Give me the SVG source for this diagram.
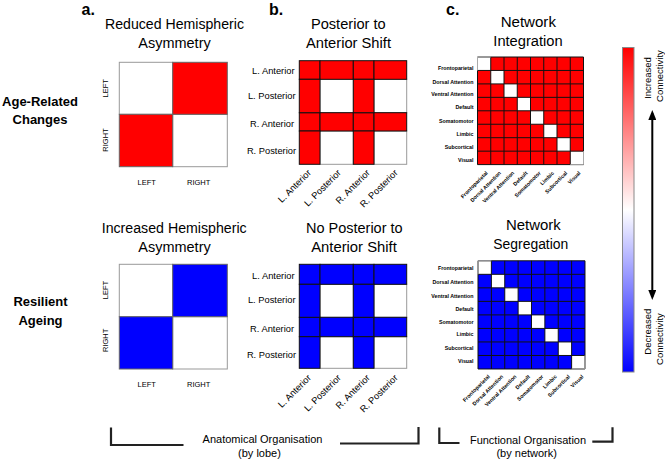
<svg xmlns="http://www.w3.org/2000/svg" xmlns:xlink="http://www.w3.org/1999/xlink" width="665" height="462" viewBox="0 0 665 462">
<defs>
<style>
text{font-family:"Liberation Sans",Arial,sans-serif;fill:#000}
.t{font-size:14px;text-anchor:middle}
.h{font-size:13px;font-weight:bold;text-anchor:middle}
.p{font-size:16px;font-weight:bold}
.ax{font-size:7.5px;text-anchor:middle}
.rl{font-size:9.3px;text-anchor:end}
.nl{font-size:5.3px;font-weight:bold;text-anchor:end}
.ft{font-size:11px;text-anchor:middle}
.cb{font-size:9.5px;text-anchor:middle}
.w{fill:#fff;stroke:#999;stroke-width:1}
.r{fill:#ff0000;stroke:#111;stroke-width:1}
.b{fill:#0000ff;stroke:#111;stroke-width:1}
.ar{fill:#ff0000;stroke:#666;stroke-width:1}
.ab{fill:#0000ff;stroke:#666;stroke-width:1}
.br{fill:none;stroke:#222;stroke-width:2.2}
</style>
<linearGradient id="cg" x1="0" y1="0" x2="0" y2="1">
<stop offset="0" stop-color="#ff0000"/><stop offset="0.5" stop-color="#ffffff"/><stop offset="1" stop-color="#0000ff"/>
</linearGradient>
<marker id="ah" markerWidth="5" markerHeight="4" refX="3.5" refY="2" orient="auto-start-reverse"><path d="M0 0L5 2L0 4z" fill="#000"/></marker>
<g id="netgrid">
<rect width="8" height="8" fill="currentColor"/>
<path d="M0 0h1v1h-1zM1 1h1v1h-1zM2 2h1v1h-1zM3 3h1v1h-1zM4 4h1v1h-1zM5 5h1v1h-1zM6 6h1v1h-1zM7 7h1v1h-1z" fill="#fff"/>
<path d="M0 0H8V8H0zM1 0V8M2 0V8M3 0V8M4 0V8M5 0V8M6 0V8M7 0V8M0 1H8M0 2H8M0 3H8M0 4H8M0 5H8M0 6H8M0 7H8" fill="none" stroke="#111" stroke-width="1" vector-effect="non-scaling-stroke"/>
<path d="M0 1V0H1M7 8H8V7" fill="none" stroke="#aaa" stroke-width="1" vector-effect="non-scaling-stroke"/>
</g>
</defs>
<rect width="665" height="462" fill="#fff"/>

<g id="row-labels">
<text class="h" x="40" y="106">Age-Related</text>
<text class="h" x="40" y="124">Changes</text>
<text class="h" x="40.5" y="306">Resilient</text>
<text class="h" x="40.5" y="325">Ageing</text>
</g>

<g id="panel-a">
<text class="p" x="81.5" y="15">a.</text>
<text class="t" x="174.5" y="29.3" textLength="139" lengthAdjust="spacingAndGlyphs">Reduced Hemispheric</text>
<text class="t" x="174.5" y="48.3" textLength="72.4" lengthAdjust="spacingAndGlyphs">Asymmetry</text>
<rect class="w" x="119.3" y="62.3" width="53.4" height="52"/>
<rect class="w" x="172.7" y="114.3" width="54.6" height="52.4"/>
<rect class="ar" x="172.7" y="62.3" width="54.6" height="52"/>
<rect class="ar" x="119.3" y="114.3" width="53.4" height="52.4"/>
<text class="ax" transform="translate(107.7 88.3) rotate(-90)">LEFT</text>
<text class="ax" transform="translate(107.7 140) rotate(-90)">RIGHT</text>
<text class="ax" x="146.7" y="185">LEFT</text>
<text class="ax" x="198.7" y="185">RIGHT</text>

<text class="t" x="174.2" y="233.3" textLength="145" lengthAdjust="spacingAndGlyphs">Increased Hemispheric</text>
<text class="t" x="174.5" y="251.7" textLength="72.4" lengthAdjust="spacingAndGlyphs">Asymmetry</text>
<rect class="w" x="119.3" y="264.3" width="53.4" height="52.4"/>
<rect class="w" x="172.7" y="316.7" width="54.6" height="52.3"/>
<rect class="ab" x="172.7" y="264.3" width="54.6" height="52.4"/>
<rect class="ab" x="119.3" y="316.7" width="53.4" height="52.3"/>
<text class="ax" transform="translate(107.7 290) rotate(-90)">LEFT</text>
<text class="ax" transform="translate(107.7 340.3) rotate(-90)">RIGHT</text>
<text class="ax" x="146.7" y="386.7">LEFT</text>
<text class="ax" x="198.7" y="386.7">RIGHT</text>
</g>

<g id="panel-b">
<text class="p" x="269" y="15">b.</text>
<text class="t" x="348.3" y="29.3" textLength="74.7" lengthAdjust="spacingAndGlyphs">Posterior to</text>
<text class="t" x="348.5" y="48.3" textLength="85" lengthAdjust="spacingAndGlyphs">Anterior Shift</text>
<rect class="w" x="320" y="79.3" width="33.3" height="33.4"/>
<rect class="w" x="374" y="79.3" width="32.7" height="33.4"/>
<rect class="w" x="320" y="131" width="33.3" height="33.3"/>
<rect class="w" x="374" y="131" width="32.7" height="33.3"/>
<rect class="r" x="299.3" y="60.7" width="20.7" height="18.6"/>
<rect class="r" x="320" y="60.7" width="33.3" height="18.6"/>
<rect class="r" x="353.3" y="60.7" width="20.7" height="18.6"/>
<rect class="r" x="374" y="60.7" width="32.7" height="18.6"/>
<rect class="r" x="299.3" y="112.7" width="20.7" height="18.3"/>
<rect class="r" x="320" y="112.7" width="33.3" height="18.3"/>
<rect class="r" x="353.3" y="112.7" width="20.7" height="18.3"/>
<rect class="r" x="374" y="112.7" width="32.7" height="18.3"/>
<rect class="r" x="299.3" y="79.3" width="20.7" height="33.4"/>
<rect class="r" x="353.3" y="79.3" width="20.7" height="33.4"/>
<rect class="r" x="299.3" y="131" width="20.7" height="33.3"/>
<rect class="r" x="353.3" y="131" width="20.7" height="33.3"/>
<text class="rl" x="294.5" y="74.3">L. Anterior</text>
<text class="rl" x="295.5" y="98.7">L. Posterior</text>
<text class="rl" x="294" y="127.3">R. Anterior</text>
<text class="rl" x="296" y="154">R. Posterior</text>
<text class="rl" transform="translate(311.7 173.4) rotate(-45)">L. Anterior</text>
<text class="rl" transform="translate(341.5 173.4) rotate(-45)">L. Posterior</text>
<text class="rl" transform="translate(370.5 173.4) rotate(-45)">R. Anterior</text>
<text class="rl" transform="translate(398.4 173.4) rotate(-45)">R. Posterior</text>

<text class="t" x="354.3" y="232.7" textLength="96.7" lengthAdjust="spacingAndGlyphs">No Posterior to</text>
<text class="t" x="354" y="251.7" textLength="85.7" lengthAdjust="spacingAndGlyphs">Anterior Shift</text>
<rect class="w" x="320" y="284.3" width="33.3" height="33"/>
<rect class="w" x="374" y="284.3" width="32.7" height="33"/>
<rect class="w" x="320" y="336.7" width="33.3" height="31.6"/>
<rect class="w" x="374" y="336.7" width="32.7" height="31.6"/>
<rect class="b" x="299.3" y="264.3" width="20.7" height="20"/>
<rect class="b" x="320" y="264.3" width="33.3" height="20"/>
<rect class="b" x="353.3" y="264.3" width="20.7" height="20"/>
<rect class="b" x="374" y="264.3" width="32.7" height="20"/>
<rect class="b" x="299.3" y="317.3" width="20.7" height="19.4"/>
<rect class="b" x="320" y="317.3" width="33.3" height="19.4"/>
<rect class="b" x="353.3" y="317.3" width="20.7" height="19.4"/>
<rect class="b" x="374" y="317.3" width="32.7" height="19.4"/>
<rect class="b" x="299.3" y="284.3" width="20.7" height="33"/>
<rect class="b" x="353.3" y="284.3" width="20.7" height="33"/>
<rect class="b" x="299.3" y="336.7" width="20.7" height="31.6"/>
<rect class="b" x="353.3" y="336.7" width="20.7" height="31.6"/>
<text class="rl" x="294.5" y="278.7">L. Anterior</text>
<text class="rl" x="295.5" y="303.3">L. Posterior</text>
<text class="rl" x="294" y="331.7">R. Anterior</text>
<text class="rl" x="296" y="358.3">R. Posterior</text>
<text class="rl" transform="translate(311.7 378.4) rotate(-45)">L. Anterior</text>
<text class="rl" transform="translate(341.5 378.4) rotate(-45)">L. Posterior</text>
<text class="rl" transform="translate(370.5 378.4) rotate(-45)">R. Anterior</text>
<text class="rl" transform="translate(398.4 378.4) rotate(-45)">R. Posterior</text>
</g>

<g id="panel-c">
<text class="p" x="446" y="15">c.</text>
<text class="t" x="528.3" y="26.7" textLength="55.3" lengthAdjust="spacingAndGlyphs">Network</text>
<text class="t" x="528" y="45.7" textLength="69.4" lengthAdjust="spacingAndGlyphs">Integration</text>
<use xlink:href="#netgrid" href="#netgrid" transform="translate(477.5 57) scale(13.25 13.45)" style="color:#ff0000"/>
<text class="nl" x="473.5" y="70.4">Frontoparietal</text>
<text class="nl" x="473.5" y="83.6">Dorsal Attention</text>
<text class="nl" x="473.5" y="96.4">Ventral Attention</text>
<text class="nl" x="473.5" y="109.4">Default</text>
<text class="nl" x="473.5" y="122.6">Somatomotor</text>
<text class="nl" x="473.5" y="135.9">Limbic</text>
<text class="nl" x="473.5" y="148.7">Subcortical</text>
<text class="nl" x="473.5" y="161.9">Visual</text>
<text class="nl" transform="translate(488.1 173.5) rotate(-45)">Frontoparietal</text>
<text class="nl" transform="translate(501.4 173.5) rotate(-45)">Dorsal Attention</text>
<text class="nl" transform="translate(514.6 173.5) rotate(-45)">Ventral Attention</text>
<text class="nl" transform="translate(527.9 173.5) rotate(-45)">Default</text>
<text class="nl" transform="translate(541.1 173.5) rotate(-45)">Somatomotor</text>
<text class="nl" transform="translate(554.4 173.5) rotate(-45)">Limbic</text>
<text class="nl" transform="translate(567.6 173.5) rotate(-45)">Subcortical</text>
<text class="nl" transform="translate(580.9 173.5) rotate(-45)">Visual</text>

<text class="t" x="533.3" y="230" textLength="54.7" lengthAdjust="spacingAndGlyphs">Network</text>
<text class="t" x="530.8" y="249.3" textLength="75" lengthAdjust="spacingAndGlyphs">Segregation</text>
<use xlink:href="#netgrid" href="#netgrid" transform="translate(478 260.8) scale(13.375 13.525)" style="color:#0000ff"/>
<text class="nl" x="473.5" y="270.4">Frontoparietal</text>
<text class="nl" x="473.5" y="283.6">Dorsal Attention</text>
<text class="nl" x="473.5" y="297.6">Ventral Attention</text>
<text class="nl" x="473.5" y="310.6">Default</text>
<text class="nl" x="473.5" y="323.6">Somatomotor</text>
<text class="nl" x="473.5" y="336.2">Limbic</text>
<text class="nl" x="473.5" y="349.6">Subcortical</text>
<text class="nl" x="473.5" y="362.6">Visual</text>
<text class="nl" transform="translate(490.2 377) rotate(-45)">Frontoparietal</text>
<text class="nl" transform="translate(503.6 377) rotate(-45)">Dorsal Attention</text>
<text class="nl" transform="translate(516.9 377) rotate(-45)">Ventral Attention</text>
<text class="nl" transform="translate(530.3 377) rotate(-45)">Default</text>
<text class="nl" transform="translate(543.7 377) rotate(-45)">Somatomotor</text>
<text class="nl" transform="translate(557.1 377) rotate(-45)">Limbic</text>
<text class="nl" transform="translate(570.4 377) rotate(-45)">Subcortical</text>
<text class="nl" transform="translate(583.8 377) rotate(-45)">Visual</text>
</g>

<g id="colour-bar">
<rect x="622.5" y="47.5" width="11.5" height="324.5" fill="url(#cg)" stroke="#888" stroke-width="1"/>
<text class="cb" transform="translate(650.6 78) rotate(-90)">Increased</text>
<text class="cb" transform="translate(662.6 76) rotate(-90)">Connectivity</text>
<text class="cb" transform="translate(651.2 331.7) rotate(-90)">Decreased</text>
<text class="cb" transform="translate(663.2 339) rotate(-90)">Connectivity</text>
</g>

<g id="connectors">
<line x1="652.3" y1="113" x2="652.3" y2="297" stroke="#000" stroke-width="2" marker-start="url(#ah)" marker-end="url(#ah)"/>
<path class="br" d="M111 427.5V445H183.5"/>
<path class="br" d="M340 443.5H418.5V427"/>
<path class="br" d="M439.3 427.5V443H459.5"/>
<path class="br" d="M592.3 441.7H612.5V427.3"/>
</g>

<g id="footer">
<text class="ft" x="262.5" y="443">Anatomical Organisation</text>
<text class="ft" x="259.5" y="456.5">(by lobe)</text>
<text class="ft" x="528" y="443.5">Functional Organisation</text>
<text class="ft" x="526.7" y="456.5">(by network)</text>
</g>
</svg>
